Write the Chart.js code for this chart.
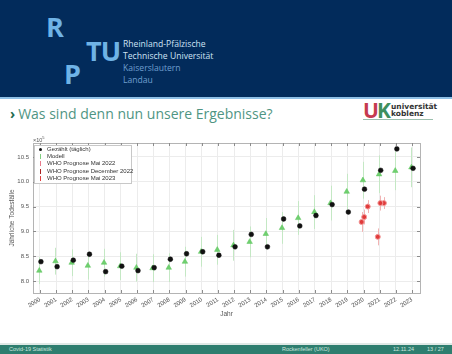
<!DOCTYPE html>
<html>
<head>
<meta charset="utf-8">
<script src="https://cdn.jsdelivr.net/npm/chart.js@4.4.1/dist/chart.umd.min.js"></script>
<style>
html, body { margin: 0; padding: 0; }
body { width: 452px; height: 354px; position: relative; overflow: hidden; background: #fff; font-family: "Open Sans", sans-serif; }
#head { position: absolute; left: 0; top: 0; width: 452px; height: 97px; background: #022b5b; }
#headline { position: absolute; left: 0; top: 97px; width: 452px; height: 2px; background: #8fc0e6; }
.big { position: absolute; color: #6fb3e6; font: bold 27px "Open Sans"; line-height: 1; letter-spacing: -1px; }
.uni { position: absolute; left: 123px; font: 8.6px "Open Sans"; line-height: 1; white-space: nowrap; }
#title { position: absolute; left: 10px; top: 104px; font: 14px "Open Sans"; color: #4f9583; white-space: nowrap; }
#title b { color: #1f6b50; font-weight: bold; margin-right: 3px; }
#uk { position: absolute; left: 363px; top: 100px; }
#uk .u { position: absolute; left: 0; top: 0; font: bold 21px "Open Sans"; line-height: 1; letter-spacing: -2px; }
#uk .t { position: absolute; left: 28px; top: 3px; font: bold 7.5px "DejaVu Sans"; line-height: 7px; color: #333; white-space: nowrap; }
#uk .s { position: absolute; left: 0; top: 19px; width: 70px; height: 1px; background: #9bbfae; }
#wrap { position: absolute; left: 0; top: 130px; width: 440px; height: 190px; }
#legend { position: absolute; left: 34px; top: 145px; width: 96px; height: 37px; border: 1px solid #c8c8c8; background: #fff; font: 6px "Liberation Sans", sans-serif; color: #333; }
#legend div { position: relative; height: 7.2px; line-height: 7.2px; padding-left: 12px; white-space: nowrap; }
#legend div i { position: absolute; left: 4px; top: 2px; width: 3px; height: 3px; border-radius: 50%; }
#legend div i.bar { top: 1px; left: 5px; width: 1px; height: 5px; border-radius: 0; }
#exp { position: absolute; left: 33px; top: 135px; font: 5.5px "Liberation Sans", sans-serif; color: #555; }
#foot { position: absolute; left: 0; top: 345px; width: 452px; height: 9px; background: #2e7e6f; color: #cfe6df; font: 5.5px "Liberation Sans", sans-serif; line-height: 9px; }
#footline { position: absolute; left: 0; top: 343px; width: 452px; height: 2px; background: #dfe9e6; }
#foot span { position: absolute; top: 0; white-space: nowrap; }
</style>
</head>
<body>
<div id="head">
  <div class="big" style="left:46px;top:13px">R</div>
  <div class="big" style="left:86px;top:37px">TU</div>
  <div class="big" style="left:64px;top:60px">P</div>
  <div class="uni" style="top:40px;color:#cfe3f5">Rheinland-Pfälzische</div>
  <div class="uni" style="top:52px;color:#cfe3f5">Technische Universität</div>
  <div class="uni" style="top:64px;color:#6f9fcf">Kaiserslautern</div>
  <div class="uni" style="top:76px;color:#6f9fcf">Landau</div>
</div>
<div id="headline"></div>
<div id="title"><b>›</b>Was sind denn nun unsere Ergebnisse?</div>
<div id="uk">
  <div class="u"><span style="color:#c63a50">U</span><span style="color:#3e8f5e">K</span></div>
  <div class="t">universität<br>koblenz</div>
  <div class="s"></div>
</div>
<div id="wrap"><canvas id="c" width="440" height="190"></canvas></div>
<div id="exp">×10<sup style="font-size:4px">5</sup></div>
<div id="legend">
  <div><i style="background:#111"></i>Gezählt (täglich)</div>
  <div><i class="bar" style="background:#7fd07f"></i>Modell</div>
  <div><i class="bar" style="background:#e87a8a"></i>WHO Prognose Mai 2022</div>
  <div><i class="bar" style="background:#a82020"></i>WHO Prognose December 2022</div>
  <div><i class="bar" style="background:#e04040"></i>WHO Prognose Mai 2023</div>
</div>
<div id="footline"></div>
<div id="foot">
  <span style="left:9px">Covid-19 Statistik</span>
  <span style="left:282px">Rockenfeller (UKO)</span>
  <span style="left:393px">12.11.24</span>
  <span style="left:427px">13 / 27</span>
</div>

<script>
// values in units of 10^5 deaths
const years   = [2000,2001,2002,2003,2004,2005,2006,2007,2008,2009,2010,2011,2012,2013,2014,2015,2016,2017,2018,2019,2020,2021,2022,2023];
const counted = [8.39,8.29,8.42,8.54,8.19,8.30,8.21,8.27,8.44,8.55,8.59,8.52,8.69,8.94,8.69,9.25,9.11,9.32,9.54,9.39,9.85,10.23,10.66,10.27];
const model   = [8.21,8.40,8.37,8.31,8.37,8.30,8.27,8.26,8.27,8.39,8.59,8.63,8.72,8.79,8.95,9.07,9.27,9.39,9.57,9.80,10.03,10.15,10.22,10.29];
const modelErr= [0.27,0.27,0.27,0.28,0.28,0.28,0.28,0.28,0.29,0.30,0.30,0.30,0.31,0.31,0.32,0.32,0.34,0.34,0.35,0.36,0.37,0.38,0.39,0.40];

const whoYears    = [2020, 2021];
const whoMay22    = [9.19, 8.89];
const whoMay22Err = [0.20, 0.17];
const whoDec22    = [9.29, 9.57];
const whoDec22Err = [0.15, 0.15];
const whoMay23    = [9.50, 9.57];
const whoMay23Err = [0.13, 0.12];

const yTicks = [8, 8.5, 9, 9.5, 10, 10.5];

function pts(xs, ys, dx) {
    return xs.map((x,i) => ({ x: x + dx, y: ys[i] }));
}

// vertical error bars, drawn behind the markers
const errorBars = {
    id: 'errorBars',
    beforeDatasetsDraw(chart) {
        const { ctx, scales: { x, y } } = chart;
        chart.data.datasets.forEach(ds => {
            if (!ds.errors) return;
            ctx.save();
            ctx.strokeStyle = ds.errorColor;
            ctx.lineWidth = 1;
            ds.data.forEach((p,i) => {
                const px = Math.round(x.getPixelForValue(p.x)) + 0.5;
                ctx.beginPath();
                ctx.moveTo(px, y.getPixelForValue(p.y - ds.errors[i]));
                ctx.lineTo(px, y.getPixelForValue(p.y + ds.errors[i]));
                ctx.stroke();
            });
            ctx.restore();
        });
    }
};

// matlab style box with inward ticks
const frame = {
    id: 'frame',
    afterDraw(chart) {
        const { ctx, chartArea: a, scales: { x, y } } = chart;
        ctx.save();
        ctx.strokeStyle = '#b4b4b4';
        ctx.lineWidth = 1;
        ctx.strokeRect(Math.round(a.left)+0.5, Math.round(a.top)+0.5, Math.round(a.right-a.left), Math.round(a.bottom-a.top));
        ctx.strokeStyle = '#8c8c8c';
        ctx.beginPath();
        x.ticks.forEach(t => {
            const px = Math.round(x.getPixelForValue(t.value)) + 0.5;
            ctx.moveTo(px, a.bottom); ctx.lineTo(px, a.bottom - 3);
            ctx.moveTo(px, a.top); ctx.lineTo(px, a.top + 3);
        });
        y.ticks.forEach(t => {
            const py = Math.round(y.getPixelForValue(t.value)) + 0.5;
            ctx.moveTo(a.left, py); ctx.lineTo(a.left + 3, py);
            ctx.moveTo(a.right, py); ctx.lineTo(a.right - 3, py);
        });
        ctx.stroke();
        ctx.restore();
    }
};

new Chart(document.getElementById('c'), {
    type: 'scatter',
    data: {
        datasets: [
            { label: 'Gezählt (täglich)', data: pts(years, counted, 0.06),
              pointStyle: 'circle', pointRadius: 2.4, backgroundColor: '#111', borderColor: '#111', borderWidth: 0.5 },
            { label: 'WHO Prognose Mai 2022', data: pts(whoYears, whoMay22, -0.12), errors: whoMay22Err, errorColor: '#f2b3b3',
              pointStyle: 'circle', pointRadius: 2.5, backgroundColor: '#e03a3a', borderColor: '#f29a9a', borderWidth: 1 },
            { label: 'WHO Prognose December 2022', data: pts(whoYears, whoDec22, 0.04), errors: whoDec22Err, errorColor: '#f2b3b3',
              pointStyle: 'circle', pointRadius: 2.5, backgroundColor: '#e03a3a', borderColor: '#f29a9a', borderWidth: 1 },
            { label: 'WHO Prognose Mai 2023', data: pts(whoYears, whoMay23, 0.26), errors: whoMay23Err, errorColor: '#f2b3b3',
              pointStyle: 'circle', pointRadius: 2.5, backgroundColor: '#e03a3a', borderColor: '#f29a9a', borderWidth: 1 },
            { label: 'Modell', data: pts(years, model, -0.04), errors: modelErr, errorColor: '#c4e8c4',
              pointStyle: 'triangle', pointRadius: 3.2, backgroundColor: '#6fd06f', borderColor: '#5cc25c', borderWidth: 0.5 }
        ]
    },
    options: {
        responsive: false,
        animation: false,
        maintainAspectRatio: false,
        layout: { padding: { top: 13, right: 20, left: 0, bottom: 0 } },
        plugins: { legend: { display: false }, tooltip: { enabled: false } },
        scales: {
            x: {
                type: 'linear', min: 1999.57, max: 2023.49,
                afterFit: s => { s.height = 27; },
                afterBuildTicks: s => { s.ticks = years.map(v => ({ value: v })); },
                grid: { color: '#ececec', drawTicks: false },
                border: { display: false },
                ticks: { autoSkip: false, minRotation: 32, maxRotation: 32, padding: 3,
                         font: { size: 6, family: 'Liberation Sans' }, color: '#555',
                         callback: v => String(v) },
                title: { display: true, text: 'Jahr', font: { size: 6.5, family: 'Liberation Sans' }, color: '#555',
                         padding: { top: 0, bottom: 2 } }
            },
            y: {
                min: 7.76, max: 10.78,
                afterFit: s => { s.width = 33; },
                afterBuildTicks: s => { s.ticks = yTicks.map(v => ({ value: v })); },
                grid: { color: '#ececec', drawTicks: false },
                border: { display: false },
                ticks: { padding: 4, font: { size: 6, family: 'Liberation Sans' }, color: '#555' },
                title: { display: true, text: 'Jährliche Todesfälle', font: { size: 6.5, family: 'Liberation Sans' }, color: '#555',
                         padding: { top: 8, bottom: 0 } }
            }
        }
    },
    plugins: [errorBars, frame]
});
</script>
</body>
</html>
